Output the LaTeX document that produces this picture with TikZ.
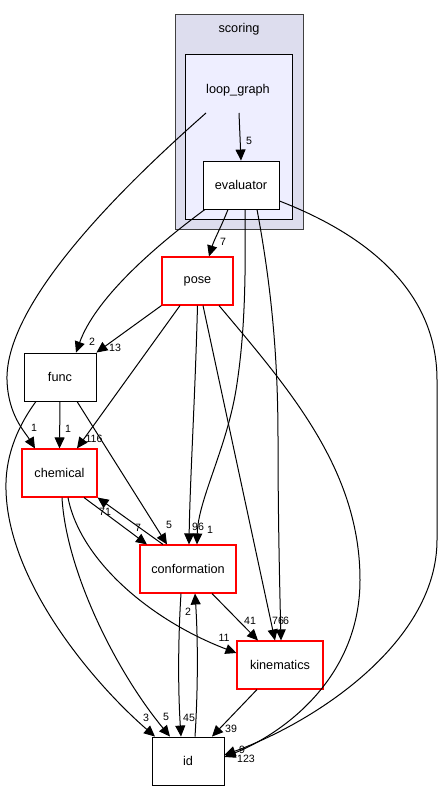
\documentclass[tikz,border=0pt]{standalone}
\usepackage{fontspec}
\setmainfont{Liberation Sans}
\usetikzlibrary{arrows.meta}
\definecolor{clusterA}{HTML}{DDDDEE}
\definecolor{clusterB}{HTML}{EEEEFF}
\definecolor{clusterEdge}{HTML}{404040}
\definecolor{nodeRed}{HTML}{FF0000}
\tikzset{
  dnode/.style={draw=black, fill=white, line width=0.9pt, minimum height=48pt, inner sep=0pt, font=\fontsize{12.7}{15}\selectfont},
  rednode/.style={dnode, draw=nodeRed, line width=1.1pt},
  dep/.style={draw=black, line width=1pt, -{Triangle[length=11pt,width=10pt]}},
  elabel/.style={font=\fontsize{10.6}{12}\selectfont, inner sep=0pt},
  clabel/.style={font=\fontsize{12.7}{15}\selectfont, inner sep=0pt}
}
\begin{document}
\begin{tikzpicture}[x=1pt,y=-1pt]
\useasboundingbox (0,0) rectangle (443,791);
% clusters
\node[draw=clusterEdge, fill=clusterA, line width=1pt, minimum width=128pt, minimum height=215pt, inner sep=0pt] (scoring) at (239,122.5) {};
\node[draw=black, fill=clusterB, line width=1pt, minimum width=107pt, minimum height=165pt, inner sep=0pt] (loopgraph) at (238.5,137) {};
\node[clabel] (scoringlbl) at (239,29) {scoring};
\node[clabel] (lglbl) at (238,90) {loop\_graph};
\coordinate (lgA) at (206,113);
\coordinate (lgB) at (239,113);
% nodes
\node[dnode, minimum width=76pt] (evaluator) at (241,185) {evaluator};
\node[rednode, minimum width=71pt] (pose) at (197.5,281) {pose};
\node[dnode, minimum width=72pt] (func) at (60,377) {func};
\node[rednode, minimum width=75pt] (chemical) at (59.5,473) {chemical};
\node[rednode, minimum width=96pt] (conformation) at (188,569) {conformation};
\node[rednode, minimum width=86pt] (kinematics) at (280,665) {kinematics};
\node[dnode, minimum width=72pt] (id) at (188,761) {id};
% edges
\draw[dep] (lgA) .. controls (130,180) and (5,300) .. (7,380) .. controls (8,415) and (25,432) .. ([xshift=-24.5pt]chemical.north);
\draw[dep] (lgB) -- (evaluator.north);
\draw[dep] ([xshift=-13pt]evaluator.south) .. controls (222,225) and (214,240) .. ([xshift=11.5pt]pose.north);
\draw[dep] ([xshift=-36pt]evaluator.south) .. controls (150,250) and (95,300) .. ([xshift=16pt]func.north);
\draw[dep] ([xshift=4pt]evaluator.south) .. controls (246,290) and (244,340) .. (236,390) .. controls (226,450) and (198,500) .. ([xshift=9pt]conformation.north);
\draw[dep] ([xshift=16pt]evaluator.south) .. controls (272,290) and (278,360) .. (278,440) .. controls (278,520) and (280,600) .. ([xshift=1pt]kinematics.north);
\draw[dep] ([yshift=-16pt]evaluator.east) .. controls (380,240) and (437,300) .. (437,380) -- (437,540) .. controls (437,640) and (320,720) .. ([yshift=6pt]id.east);
\draw[dep] (pose.south west) -- (func.north east);
\draw[dep] ([xshift=-17.5pt]pose.south) -- ([xshift=17.5pt]chemical.north);
\draw[dep] (pose.south) .. controls (195,400) and (190,480) .. ([xshift=1pt]conformation.north);
\draw[dep] ([xshift=5.5pt]pose.south) -- ([xshift=-5pt]kinematics.north);
\draw[dep] ([xshift=21.5pt]pose.south) .. controls (290,390) and (360,470) .. (360,580) .. controls (360,680) and (280,735) .. ([yshift=4pt]id.east);
\draw[dep] (func.south) -- (chemical.north);
\draw[dep] ([xshift=17pt]func.south) -- ([xshift=-21pt]conformation.north);
\draw[dep] ([xshift=-24pt]func.south) .. controls (15,430) and (5,460) .. (6,490) .. controls (8,580) and (90,680) .. ([xshift=-33pt]id.north);
\draw[dep] ([xshift=24.5pt]chemical.south) -- ([xshift=-41pt]conformation.north);
\draw[dep] ([xshift=-25pt]conformation.north) -- (chemical.south east);
\draw[dep] ([xshift=2.5pt]chemical.south) .. controls (66,570) and (115,670) .. ([xshift=-18pt]id.north);
\draw[dep] ([xshift=8.5pt]chemical.south) .. controls (80,560) and (150,620) .. ([yshift=12pt]kinematics.west);
\draw[dep] ([xshift=-7pt]conformation.south) .. controls (178,640) and (178,690) .. ([xshift=-7pt]id.north);
\draw[dep] ([xshift=7pt]id.north) .. controls (198,690) and (198,640) .. ([xshift=7pt]conformation.south);
\draw[dep] ([xshift=24pt]conformation.south) -- ([xshift=-22pt]kinematics.north);
\draw[dep] ([xshift=-23pt]kinematics.south) -- ([xshift=24pt]id.north);
% edge labels
\node[elabel] (l1) at (34,428) {1};
\node[elabel] (l2) at (249,141) {5};
\node[elabel] (l3) at (223,242) {7};
\node[elabel] (l4) at (92,342) {2};
\node[elabel] (l5) at (210,530) {1};
\node[elabel] (l6) at (286,621) {6};
\node[elabel] (l7) at (242,750) {9};
\node[elabel] (l8) at (115,348) {13};
\node[elabel] (l9) at (94,439) {116};
\node[elabel] (l10) at (198,527) {96};
\node[elabel] (l11) at (278,621) {76};
\node[elabel] (l12) at (246,759) {123};
\node[elabel] (l13) at (68,429) {1};
\node[elabel] (l14) at (169,525) {5};
\node[elabel] (l15) at (146,718) {3};
\node[elabel] (l16) at (138,528) {7};
\node[elabel] (l17) at (105,512) {71};
\node[elabel] (l18) at (166,717) {5};
\node[elabel] (l19) at (224,638) {11};
\node[elabel] (l20) at (189,718) {45};
\node[elabel] (l21) at (188,612) {2};
\node[elabel] (l22) at (250,621) {41};
\node[elabel] (l23) at (231,729) {39};
\end{tikzpicture}
\end{document}
